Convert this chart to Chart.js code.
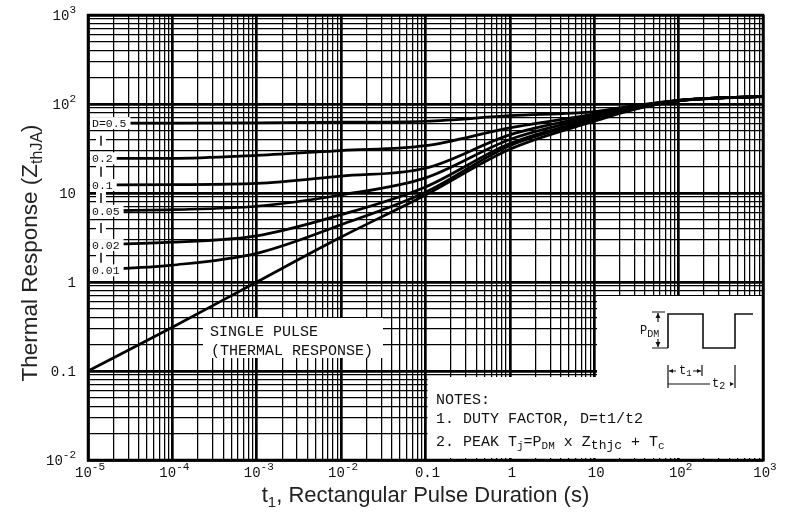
<!DOCTYPE html>
<html><head><meta charset="utf-8">
<script src="https://cdn.jsdelivr.net/npm/chart.js@4/dist/chart.umd.min.js"></script>
<style>html,body{margin:0;padding:0;background:#fff}#wrap{width:787px;height:521px}</style>
</head><body><div id="wrap"><canvas id="c" width="787" height="521"></canvas></div>
<script>
// ---- data ----
const pulseTimes = [1e-5, 1e-4, 1e-3, 1e-2, 0.1, 1, 10, 30, 100, 1000];
const zthD050   = [61, 61, 61.5, 62.5, 64, 74, 82, 96, 110, 122];
const zthD020   = [24.5, 24.5, 26.5, 30, 34, 54, 77, 94, 110, 122];
const zthD010   = [12.3, 12.4, 12.8, 15.5, 19, 45, 74, 92, 110, 122];
const zthD005   = [6.3, 6.5, 7.1, 9.5, 14.8, 40, 71, 90, 109, 122];
const zthD002   = [2.6, 2.8, 3.3, 5.7, 11.7, 36, 68, 89, 109, 122];
const zthD001   = [1.35, 1.55, 2.1, 4.4, 10.2, 34, 66, 88, 109, 122];
const zthSingle = [0.1, 0.31, 1.0, 3.2, 9.5, 31, 64, 87, 108, 121];
const seriesLabels = ["D=0.5", "0.2", "0.1", "0.05", "0.02", "0.01", "SINGLE PULSE"];
const xTickLabels = ["10^-5", "10^-4", "10^-3", "10^-2", "0.1", "1", "10", "10^2", "10^3"];
const yTickLabels = ["10^-2", "0.1", "1", "10", "10^2", "10^3"];
const xDecades = [-5, 3];
const yDecades = [-2, 3];

const allSeries = [zthD050, zthD020, zthD010, zthD005, zthD002, zthD001, zthSingle];

function gridValues(lo, hi) {
  const out = [];
  for (let k = lo; k < hi; k++) for (let m = 1; m <= 9; m++) out.push(m * Math.pow(10, k));
  out.push(Math.pow(10, hi));
  return out;
}
function isDecade(v) {
  if (!v) return false;
  const l = Math.log10(v);
  return Math.abs(l - Math.round(l)) < 1e-6;
}

const MONO = '"Liberation Mono", "DejaVu Sans Mono", monospace';
const SANS = '"Liberation Sans", Arial, sans-serif';

function drawRich(ctx, parts, x, y, align) {
  let w = 0;
  parts.forEach(p => { ctx.font = p.size + 'px ' + (p.fam || MONO); p.w = ctx.measureText(p.t).width; w += p.w; });
  let cx = align === 'center' ? x - w / 2 : (align === 'right' ? x - w : x);
  parts.forEach(p => { ctx.font = p.size + 'px ' + (p.fam || MONO); ctx.fillText(p.t, cx, y + (p.dy || 0)); cx += p.w; });
}
function tickParts(label) {
  const s = label.split('^');
  const parts = [{t: s[0], size: 14}];
  if (s.length > 1) parts.push({t: s[1], size: 11, dy: -7});
  return parts;
}

const annotations = {
  id: 'annotations',
  beforeDatasetsDraw(chart) {
    const ctx = chart.ctx, x = chart.scales.x;
    ctx.save();
    ctx.fillStyle = '#fff';
    const xl = x.getPixelForValue(0.1) + 2, xr = chart.chartArea.right - 1;
    const yb = chart.chartArea.bottom - 2;
    ctx.fillRect(xl, 377, xr - xl, yb - 377);
    ctx.fillRect(597, 296, xr - 597, yb - 296);
    ctx.fillRect(203, 318, 180, 40);
    ctx.restore();
  },
  afterDatasetsDraw(chart) {
    const ctx = chart.ctx, y = chart.scales.y, ca = chart.chartArea;
    ctx.save();
    ctx.font = '11.5px ' + MONO;
    ctx.textBaseline = 'middle';
    const ys = [];
    for (let i = 0; i < 6; i++) {
      const py = y.getPixelForValue(allSeries[i][0]);
      ys.push(py);
      const t = seriesLabels[i];
      const w = ctx.measureText(t).width;
      ctx.fillStyle = '#fff';
      ctx.fillRect(ca.left + 2, py - 6, w + 6, 12);
      ctx.fillStyle = '#111';
      ctx.fillText(t, ca.left + 4, py + 1);
    }
    ctx.strokeStyle = '#111'; ctx.lineWidth = 1.5;
    for (let i = 0; i < 5; i++) {
      const m = (ys[i] + ys[i + 1]) / 2;
      ctx.fillStyle = '#fff'; ctx.fillRect(ca.left + 8, m - 6, 10, 12);
      ctx.beginPath(); ctx.moveTo(ca.left + 13, m - 5); ctx.lineTo(ca.left + 13, m + 5); ctx.stroke();
    }
    ctx.restore();
  },
  afterDraw(chart) {
    const ctx = chart.ctx, ca = chart.chartArea, xs = chart.scales.x, ys = chart.scales.y;
    ctx.save();
    ctx.strokeStyle = '#000'; ctx.lineWidth = 2.5;
    ctx.strokeRect(ca.left, ca.top, ca.right - ca.left, ca.bottom - ca.top);
    ctx.fillStyle = '#111';
    ctx.textBaseline = 'alphabetic';
    // tick labels (decades) with superscript exponents
    xTickLabels.forEach((lab, i) => {
      const px = xs.getPixelForValue(Math.pow(10, xDecades[0] + i));
      drawRich(ctx, tickParts(lab), px + 2, 477, 'center');
    });
    yTickLabels.forEach((lab, i) => {
      const py = ys.getPixelForValue(Math.pow(10, yDecades[0] + i));
      drawRich(ctx, tickParts(lab), 76, py + 5, 'right');
    });
    // single pulse text
    ctx.font = '15px ' + MONO;
    ctx.fillText('SINGLE PULSE', 210, 336);
    ctx.fillText('(THERMAL RESPONSE)', 211, 355);
    // notes
    ctx.fillText('NOTES:', 436, 404);
    ctx.fillText('1. DUTY FACTOR, D=t1/t2', 436, 423);
    drawRich(ctx, [
      {t: '2. PEAK T', size: 15}, {t: 'j', size: 11, dy: 3}, {t: '=P', size: 15},
      {t: 'DM', size: 11, dy: 3}, {t: ' x Z', size: 15}, {t: 'thjc', size: 13, dy: 3},
      {t: ' + T', size: 15}, {t: 'c', size: 11, dy: 3}
    ], 436, 446, 'left');
    // pulse waveform
    ctx.strokeStyle = '#111'; ctx.lineWidth = 1.6;
    ctx.beginPath();
    ctx.moveTo(668, 348); ctx.lineTo(668, 314); ctx.lineTo(703, 314); ctx.lineTo(703, 348);
    ctx.lineTo(735, 348); ctx.lineTo(735, 314); ctx.lineTo(753, 314);
    ctx.stroke();
    ctx.lineWidth = 1.2;
    ctx.beginPath();
    ctx.moveTo(652, 312); ctx.lineTo(665, 312);
    ctx.moveTo(652, 348); ctx.lineTo(668, 348);
    ctx.moveTo(658, 313); ctx.lineTo(658, 322);
    ctx.moveTo(658, 339); ctx.lineTo(658, 347);
    ctx.stroke();
    ctx.beginPath();
    ctx.moveTo(658, 313); ctx.lineTo(655.5, 318); ctx.lineTo(660.5, 318); ctx.closePath();
    ctx.moveTo(658, 347); ctx.lineTo(655.5, 342); ctx.lineTo(660.5, 342); ctx.closePath();
    ctx.fill();
    drawRich(ctx, [{t: 'P', size: 12}, {t: 'DM', size: 10, dy: 3}], 640, 334, 'left');
    ctx.beginPath();
    ctx.moveTo(668, 365); ctx.lineTo(668, 388);
    ctx.moveTo(702, 365); ctx.lineTo(702, 376);
    ctx.moveTo(735, 365); ctx.lineTo(735, 388);
    ctx.moveTo(668, 384); ctx.lineTo(710, 384);
    ctx.moveTo(669, 371); ctx.lineTo(676, 371);
    ctx.moveTo(693, 371); ctx.lineTo(701, 371);
    ctx.stroke();
    ctx.beginPath();
    ctx.moveTo(669, 371); ctx.lineTo(673, 369); ctx.lineTo(673, 373); ctx.closePath();
    ctx.moveTo(701, 371); ctx.lineTo(697, 369); ctx.lineTo(697, 373); ctx.closePath();
    ctx.moveTo(734, 384); ctx.lineTo(730, 382); ctx.lineTo(730, 386); ctx.closePath();
    ctx.fill();
    drawRich(ctx, [{t: 't', size: 12}, {t: '1', size: 9, dy: 2}], 679, 374, 'left');
    drawRich(ctx, [{t: 't', size: 12}, {t: '2', size: 10, dy: 2}], 712, 387, 'left');
    // axis titles
    ctx.fillStyle = '#222';
    drawRich(ctx, [
      {t: 't', size: 22, fam: SANS}, {t: '1', size: 15, dy: 5, fam: SANS},
      {t: ', Rectangular Pulse Duration (s)', size: 22, fam: SANS}
    ], (ca.left + ca.right) / 2, 502, 'center');
    ctx.translate(37, 253);
    ctx.rotate(-Math.PI / 2);
    drawRich(ctx, [
      {t: 'Thermal Response (Z', size: 22.5, fam: SANS}, {t: 'thJA', size: 16, dy: 5, fam: SANS},
      {t: ')', size: 22.5, fam: SANS}
    ], 0, 0, 'center');
    ctx.restore();
  }
};

const gridLineWidth = ctx => (ctx.tick && isDecade(ctx.tick.value)) ? 2.7 : 1.25;

new Chart(document.getElementById('c'), {
  type: 'line',
  data: {
    datasets: allSeries.map((vals, i) => ({
      label: seriesLabels[i],
      data: vals.map((v, j) => ({x: pulseTimes[j], y: v})),
      borderColor: '#000',
      borderWidth: 2.7,
      pointRadius: 0,
      fill: false,
      cubicInterpolationMode: 'monotone'
    }))
  },
  options: {
    responsive: false,
    animation: false,
    layout: {padding: {left: 0, right: 24, top: 15, bottom: 0}},
    plugins: {legend: {display: false}, tooltip: {enabled: false}},
    scales: {
      x: {
        type: 'logarithmic', min: 1e-5, max: 1e3,
        afterBuildTicks: s => { s.ticks = gridValues(xDecades[0], xDecades[1]).map(v => ({value: v})); },
        afterFit: s => { s.height = 61; },
        grid: {color: '#000', lineWidth: gridLineWidth, drawTicks: false},
        border: {display: true, color: '#000', width: 2.5},
        ticks: {display: false, autoSkip: false}
      },
      y: {
        type: 'logarithmic', min: 1e-2, max: 1e3,
        afterBuildTicks: s => { s.ticks = gridValues(yDecades[0], yDecades[1]).map(v => ({value: v})); },
        afterFit: s => { s.width = 88; },
        grid: {color: '#000', lineWidth: gridLineWidth, drawTicks: false},
        border: {display: true, color: '#000', width: 2.5},
        ticks: {display: false, autoSkip: false}
      }
    }
  },
  plugins: [annotations]
});
</script>
</body></html>
